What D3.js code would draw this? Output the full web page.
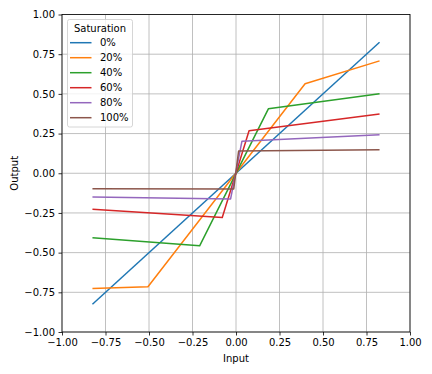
<!DOCTYPE html>
<html lang="en">
<head>
    <meta charset="UTF-8" />
    <title>Saturation curves</title>
    <script src="https://d3js.org/d3.v7.min.js"></script>
    <style>
        body { margin: 0; background: #fff; }
        text { font-family: "DejaVu Sans", sans-serif; font-size: 10px; fill: #000; }
    </style>
</head>
<body>
<div id="chart"></div>
<script>
    // data
    var saturations = ["0%", "20%", "40%", "60%", "80%", "100%"];
    var colors = ["#1f77b4", "#ff7f0e", "#2ca02c", "#d62728", "#9467bd", "#8c564b"];
    var inputs0 = [-0.825, 0.825];
    var outputs0 = [-0.825, 0.825];
    var inputs20 = [-0.825, -0.506, 0.397, 0.825];
    var outputs20 = [-0.726, -0.715, 0.564, 0.708];
    var inputs40 = [-0.825, -0.209, 0.186, 0.825];
    var outputs40 = [-0.407, -0.457, 0.406, 0.501];
    var inputs60 = [-0.825, -0.079, 0.075, 0.825];
    var outputs60 = [-0.227, -0.279, 0.268, 0.373];
    var inputs80 = [-0.825, -0.031, 0.034, 0.825];
    var outputs80 = [-0.149, -0.162, 0.201, 0.243];
    var inputs100 = [-0.825, -0.013, 0.015, 0.825];
    var outputs100 = [-0.097, -0.099, 0.14, 0.148];
    var ticks = [-1, -0.75, -0.5, -0.25, 0, 0.25, 0.5, 0.75, 1];

    var allInputs = [inputs0, inputs20, inputs40, inputs60, inputs80, inputs100];
    var allOutputs = [outputs0, outputs20, outputs40, outputs60, outputs80, outputs100];
    var series = saturations.map(function(s, i) {
        return {
            name: s,
            color: colors[i],
            points: allInputs[i].map(function(x, j) { return [x, allOutputs[i][j]]; })
        };
    });

    var w = 432, h = 374;
    var plotLeft = 62, plotRight = 410, plotTop = 14.5, plotBottom = 332;

    var svg = d3.select("#chart").append("svg")
        .attr("width", w).attr("height", h);

    var x = d3.scaleLinear().domain([-1, 1]).range([plotLeft, plotRight]);
    var y = d3.scaleLinear().domain([-1, 1]).range([plotBottom, plotTop]);

    var fmt = function(d) { return d3.format(".2f")(d).replace("-", "\u2212"); };

    // grid
    svg.append("g").selectAll("line").data(ticks).enter().append("line")
        .attr("x1", function(d) { return x(d); }).attr("x2", function(d) { return x(d); })
        .attr("y1", plotTop).attr("y2", plotBottom)
        .attr("stroke", "#b0b0b0").attr("stroke-width", 0.8);
    svg.append("g").selectAll("line").data(ticks).enter().append("line")
        .attr("y1", function(d) { return y(d); }).attr("y2", function(d) { return y(d); })
        .attr("x1", plotLeft).attr("x2", plotRight)
        .attr("stroke", "#b0b0b0").attr("stroke-width", 0.8);

    // lines
    var line = d3.line()
        .x(function(d) { return x(d[0]); })
        .y(function(d) { return y(d[1]); });
    svg.append("g").selectAll("path").data(series).enter().append("path")
        .attr("d", function(d) { return line(d.points); })
        .attr("fill", "none")
        .attr("stroke", function(d) { return d.color; })
        .attr("stroke-width", 1.5)
        .attr("stroke-linejoin", "round");

    // axes
    var xAxis = d3.axisBottom(x).tickValues(ticks).tickFormat(fmt).tickSize(3.5).tickPadding(3.5);
    var yAxis = d3.axisLeft(y).tickValues(ticks).tickFormat(fmt).tickSize(3.5).tickPadding(3.5);
    var gx = svg.append("g").attr("transform", "translate(0," + plotBottom + ")").call(xAxis);
    var gy = svg.append("g").attr("transform", "translate(" + plotLeft + ",0)").call(yAxis);
    [gx, gy].forEach(function(g) {
        g.select(".domain").remove();
        g.selectAll(".tick line").attr("stroke", "#000").attr("stroke-width", 0.8);
        g.selectAll(".tick text").style("font-family", "DejaVu Sans").style("font-size", "10px").attr("fill", "#000");
    });

    // frame
    svg.append("rect")
        .attr("x", plotLeft).attr("y", plotTop)
        .attr("width", plotRight - plotLeft).attr("height", plotBottom - plotTop)
        .attr("fill", "none").attr("stroke", "#000").attr("stroke-width", 0.8);

    // axis labels
    svg.append("text").attr("x", (plotLeft + plotRight) / 2).attr("y", 362)
        .attr("text-anchor", "middle").text("Input");
    svg.append("text")
        .attr("transform", "translate(18," + (plotTop + plotBottom) / 2 + ") rotate(-90)")
        .attr("text-anchor", "middle").text("Output");

    // legend
    var lg = svg.append("g");
    lg.append("rect")
        .attr("x", 67.5).attr("y", 19.5).attr("width", 65).attr("height", 107.5)
        .attr("rx", 2).attr("fill", "#fff").attr("fill-opacity", 0.8)
        .attr("stroke", "#cccccc").attr("stroke-width", 0.8);
    lg.append("text").attr("x", 100).attr("y", 32).attr("text-anchor", "middle").text("Saturation");
    var items = lg.selectAll("g.item").data(series).enter().append("g")
        .attr("transform", function(d, i) { return "translate(0," + (42.7 + i * 15) + ")"; });
    items.append("line").attr("x1", 70).attr("x2", 91.5).attr("y1", 0).attr("y2", 0)
        .attr("stroke", function(d) { return d.color; }).attr("stroke-width", 1.5);
    items.append("text").attr("x", 100).attr("y", 3.6).text(function(d) { return d.name; });
</script>
</body>
</html>
